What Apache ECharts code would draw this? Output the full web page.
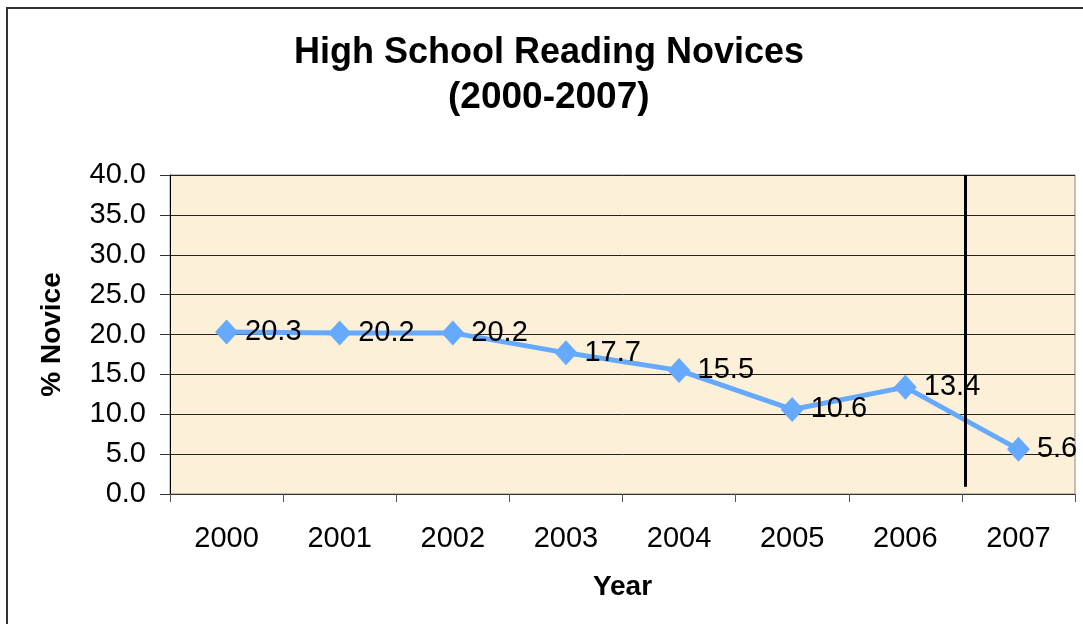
<!DOCTYPE html>
<html>
<head>
<meta charset="utf-8">
<script src="https://cdn.jsdelivr.net/npm/echarts@6/dist/echarts.min.js"></script>
<style>
html,body{margin:0;padding:0;background:#fff;}
#chart{width:1083px;height:624px;}
</style>
</head>
<body>
<div id="chart"></div>
<script>
var years = ['2000','2001','2002','2003','2004','2005','2006','2007'];
var noviceValues = [20.3, 20.2, 20.2, 17.7, 15.5, 10.6, 13.4, 5.6];
var yTickValues = [0, 5, 10, 15, 20, 25, 30, 35, 40];
var titleLines = ['High School Reading Novices', '(2000-2007)'];
var dividerPosition = 7.03;      // between 2006 and 2007 (in category slots)
var dividerRange = [40, 0.9];    // top and bottom values of the divider line

var chart = echarts.init(document.getElementById('chart'));
var FONT = '"Liberation Sans", Arial, sans-serif';
var titleStyle = { fontFamily: FONT, fontSize: 36, fontWeight: 'bold', color: '#000' };

chart.setOption({
  animation: false,
  backgroundColor: '#ffffff',
  graphic: [{
    type: 'rect',
    shape: { x: 7, y: 8, width: 1200, height: 700 },
    style: { fill: 'none', stroke: '#333333', lineWidth: 2 },
    silent: true
  }],
  title: [{
    text: titleLines[0], left: 294, top: 35, padding: 0, textStyle: titleStyle
  }, {
    text: titleLines[1], left: 448, top: 79, padding: 0,
    textStyle: Object.assign({}, titleStyle, { fontSize: 37 })
  }],
  grid: {
    left: 170, right: 8, top: 175, bottom: 130,
    show: true, backgroundColor: '#FCF0D8', borderColor: '#888888', borderWidth: 1
  },
  xAxis: [{
    type: 'category',
    data: years,
    boundaryGap: true,
    name: 'Year',
    nameLocation: 'middle',
    nameGap: 79,
    nameTextStyle: { fontFamily: FONT, fontSize: 28, fontWeight: 'bold', color: '#000' },
    axisLine: { lineStyle: { color: '#333', width: 1 } },
    axisTick: { show: true, length: 8, lineStyle: { color: '#555' } },
    axisLabel: { fontFamily: FONT, fontSize: 29, color: '#000', margin: 30 },
    splitLine: { show: false }
  }, {
    type: 'value',
    min: 0, max: 8,
    show: false,
    position: 'top'
  }],
  yAxis: {
    type: 'value',
    min: yTickValues[0],
    max: yTickValues[yTickValues.length - 1],
    interval: 5,
    name: '% Novice',
    nameLocation: 'middle',
    nameGap: 104,
    nameRotate: 90,
    nameTextStyle: { fontFamily: FONT, fontSize: 28, fontWeight: 'bold', color: '#000' },
    axisLine: { show: true, lineStyle: { color: '#000', width: 1 } },
    axisTick: { show: true, length: 10, lineStyle: { color: '#333' } },
    axisLabel: { fontFamily: FONT, fontSize: 29, color: '#000', margin: 24,
      formatter: function (v) { return v.toFixed(1); } },
    splitLine: { show: true, lineStyle: { color: '#222', width: 1 } }
  },
  series: [{
    type: 'line',
    data: noviceValues,
    xAxisIndex: 0,
    symbol: 'diamond',
    symbolSize: [23, 25],
    itemStyle: { color: '#66AAFF' },
    lineStyle: { color: '#66AAFF', width: 5 },
    label: {
      show: true, position: 'right', distance: 7,
      fontFamily: FONT, fontSize: 29, color: '#000',
      formatter: function (p) { return p.value.toFixed(1); }
    },
    z: 3
  }, {
    type: 'line',
    data: [],
    xAxisIndex: 1,
    markLine: {
      silent: true,
      symbol: ['none', 'none'],
      label: { show: false },
      lineStyle: { color: '#000', width: 3, type: 'solid' },
      data: [[
        { coord: [dividerPosition, dividerRange[0]] },
        { coord: [dividerPosition, dividerRange[1]] }
      ]]
    },
    z: 2
  }]
});
</script>
</body>
</html>
